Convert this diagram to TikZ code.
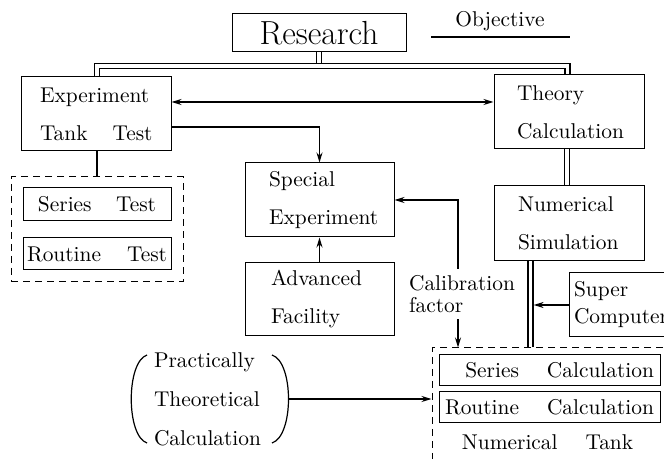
\documentclass[tikz,border=0pt]{standalone}
\usepackage{fontspec}
\usetikzlibrary{arrows.meta}
\begin{document}
\begin{tikzpicture}[x=0.5pt,y=-0.5pt,
 box/.style={draw, line width=0.5pt, rectangle, inner ysep=0pt, font=\fontsize{10.7}{19}\selectfont, align=left},
 dashbox/.style={draw, line width=0.5pt, dash pattern=on 3.5pt off 2.5pt, rectangle, inner sep=0pt},
 dbl/.style={draw, double, double distance=1.9pt, line width=0.6pt},
 arr/.style={draw, line width=0.7pt, -{Stealth[length=5pt,width=3pt]}},
 arrboth/.style={draw, line width=0.7pt, {Stealth[length=5pt,width=3pt]}-{Stealth[length=5pt,width=3pt]}},
 plain/.style={draw, line width=0.7pt},
 txt/.style={font=\fontsize{10.7}{19}\selectfont, inner sep=0pt}
]
\useasboundingbox (0,0) rectangle (664,459);
\clip (0,0) rectangle (664,459);

% top
\node[box, font=\fontsize{16.7}{20}\selectfont, minimum width=87pt, minimum height=19pt, inner xsep=0pt, align=center] (research) at (319,33) {Research};
\node[txt] (obj) at (500,21) {Objective};
\coordinate (ulA) at (431,37);
\coordinate (ulB) at (570,37);
\draw[line width=0.7pt] (ulA) -- (ulB);

% main boxes
\node[box, minimum height=37pt, inner xsep=9.5pt, text width=56pt] (exp) at (96,114) {\mbox{Experiment}\\\mbox{Tank\kern12.5pt Test}};
\node[box, minimum height=37pt, inner xsep=11.5pt, text width=52pt] (theory) at (569,112) {\mbox{Theory}\\\mbox{Calculation}};
\node[box, minimum height=37pt, inner xsep=12pt, text width=50.5pt] (special) at (319.5,200) {\mbox{Special}\\\mbox{Experiment}};
\node[box, minimum height=36.5pt, inner xsep=13pt, text width=48.5pt] (adv) at (319.5,299.5) {\mbox{Advanced}\\\mbox{Facility}};
\node[box, minimum height=37.5pt, inner xsep=12pt, text width=51pt] (num) at (569,223.5) {\mbox{Numerical}\\\mbox{Simulation}};
\node[box, font=\fontsize{10.7}{13.5}\selectfont, minimum height=32pt, inner xsep=2.5pt, text width=48.5pt] (super) at (622.5,305) {\mbox{Super}\\\mbox{Computer}};

% left dashed group
\node[dashbox, minimum width=86pt, minimum height=52.5pt] (lbox) at (97,229.5) {};
\node[box, minimum height=16.5pt, inner xsep=7.5pt, text width=59pt] (stest) at (97,204.5) {Series\hfill Test};
\node[box, minimum height=16pt, inner xsep=2pt, text width=70pt] (rtest) at (97,254) {Routine\hfill Test};

% numerical tank dashed group
\node[dashbox, minimum width=122pt, minimum height=63.5pt] (ntank) at (554,411.5) {};
\node[box, minimum height=15.5pt, inner xsep=3pt, text width=104.5pt, align=right] (scalc) at (549.5,370.5) {\mbox{Series\kern14pt Calculation}};
\node[box, minimum height=15.5pt, inner xsep=3pt, text width=104.5pt, align=right] (rcalc) at (549.5,407.5) {\mbox{Routine\kern14pt Calculation}};
\node[txt] (ntlabel) at (547.5,442) {Numerical\kern14pt Tank};

% calibration label
\node[font=\fontsize{10.7}{11}\selectfont, align=left, inner sep=3pt] (calib) at (462,294) {Calibration\\factor};

% practically theoretical calculation
\node[font=\fontsize{10.7}{19.5}\selectfont, align=left, minimum width=80pt, minimum height=44pt, inner xsep=12.5pt, inner ysep=0pt, text width=55pt] (pract) at (209,399) {\mbox{Practically}\\\mbox{Theoretical}\\\mbox{Calculation}};
\draw[line width=0.6pt] (147,355) .. controls (126,362) and (126,436) .. (147,443);
\draw[line width=0.6pt] (272,355) .. controls (294,362) and (294,436) .. (272,443);

% connectors
\coordinate (jT) at (319,64);
\coordinate (jL) at (97,66);
\coordinate (jR) at (567.5,66);
\draw[dbl] (research.south) -- (jT);
\draw[dbl] (exp.north -| jL) -- (jL) -- (jR) -- (theory.north -| jR);

\draw[arrboth] ([yshift=6pt]exp.east) -- ([yshift=6pt]exp.east -| theory.west);
\draw[arr] ([yshift=-6.5pt]exp.east) -| (special.north);
\draw[arr] (adv.north) -- (special.south);

\coordinate (cx) at (458,0);
\draw[arr] (calib.north -| cx) |- (special.east);
\draw[arr] (calib.south -| cx) -- (ntank.north -| cx);

\coordinate (tv) at (567,0);
\draw[dbl] (theory.south -| tv) -- (num.north -| tv);
\coordinate (nv) at (530.5,0);
\draw[dbl] (num.south -| nv) -- (ntank.north -| nv);
\draw[arr] (super.west) -- ([xshift=1.55pt]super.west -| nv);

\draw[plain] (exp.south -| lbox.north) -- (lbox.north);
\draw[arr] (pract.east) -- (pract.east -| ntank.west);
\end{tikzpicture}
\end{document}
